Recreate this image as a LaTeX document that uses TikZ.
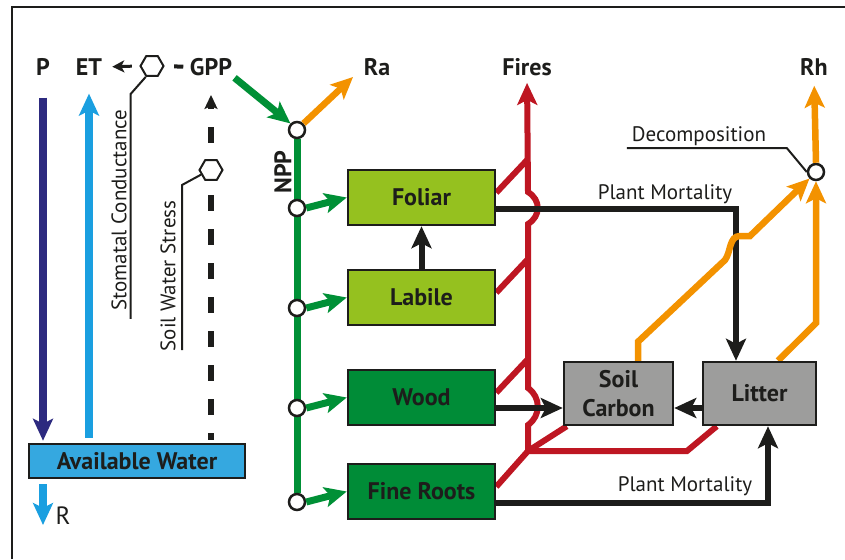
\documentclass[tikz,border=0pt]{standalone}
\usepackage{fontspec}
\setmainfont{PT Sans}
\usetikzlibrary{arrows.meta,shapes.geometric,calc,backgrounds}
\definecolor{cnavy}{HTML}{2D2A7F}
\definecolor{cblue}{HTML}{1A9FE0}
\definecolor{cwater}{HTML}{35A8E0}
\definecolor{cgreen}{HTML}{009036}
\definecolor{cleaf}{HTML}{95C11F}
\definecolor{cwood}{HTML}{008C37}
\definecolor{cgray}{HTML}{9D9D9C}
\definecolor{cred}{HTML}{BE1622}
\definecolor{corange}{HTML}{F39200}
\definecolor{cblack}{HTML}{1D1D1B}
\tikzset{
  lbl/.style={font=\fontsize{24}{24}\selectfont\bfseries, inner sep=0pt, text=cblack},
  txt/.style={font=\fontsize{21}{21}\selectfont, inner sep=0pt, text=cblack},
  pool/.style={draw=cblack, line width=2.5pt, align=center, inner sep=0pt, text=cblack,
    font=\fontsize{24}{29}\selectfont\bfseries},
  leafbox/.style={pool, fill=cleaf, minimum width=147pt, minimum height=55pt},
  woodbox/.style={pool, fill=cwood, minimum width=147pt, minimum height=55pt},
  greybox/.style={pool, fill=cgray, minimum height=63pt},
  waterbox/.style={pool, fill=cwater, minimum width=216pt, minimum height=34pt},
  dot/.style={circle, draw=cblack, fill=white, line width=2.5pt, minimum size=16pt, inner sep=0pt},
  hexa/.style={regular polygon, regular polygon sides=6, draw=cblack, fill=white, line width=2pt,
    minimum size=23pt, inner sep=0pt},
  bigtip/.style={-{Stealth[length=22pt,width=20pt,inset=5pt]}},
  gflow/.style={draw=cgreen, line width=7pt, bigtip},
  gline/.style={draw=cgreen, line width=7pt},
  oflow/.style={draw=corange, line width=6.5pt, bigtip},
  rline/.style={draw=cred, line width=6pt},
  rflow/.style={draw=cred, line width=6pt, bigtip},
  kflow/.style={draw=cblack, line width=6pt, bigtip},
  pflow/.style={draw=cnavy, line width=8pt, bigtip},
  bflow/.style={draw=cblue, line width=8pt, bigtip},
  dflow/.style={draw=cblack, line width=6pt, dash pattern=on 16pt off 18pt, dash phase=9pt,
    -{Stealth[length=14pt,width=13pt,inset=3pt]}},
  leader/.style={draw=cblack, line width=2pt},
}
\begin{document}
\begin{tikzpicture}[x=1pt,y=-1pt]
\useasboundingbox (0,0) rectangle (845,559);
\draw[cblack, line width=1.5pt] (12,559) -- (12,7) -- (845,7);

% top labels
\node[lbl] (P) at (43,67) {P};
\node[lbl] (ET) at (89,67) {ET};
\node[hexa] (hexA) at (152,66) {};
\node[lbl] (GPP) at (211,67) {GPP};
\node[lbl] (Ra) at (377,67) {Ra};
\node[lbl] (Fires) at (527,67) {Fires};
\node[lbl] (Rh) at (814,67) {Rh};
\coordinate (raTip) at (353,77);

% water
\node[waterbox] (AW) at (137,461) {Available Water};
\node[hexa] (hexB) at (211,170) {};
\node[txt, font=\fontsize{25}{25}\selectfont] (R) at (63,516) {R};
\coordinate (rTip) at (43,525);
\node[txt, rotate=90] (stom) at (119,210) {Stomatal Conductance};
\node[txt, rotate=90] (sws) at (168,276) {Soil Water Stress};

% NPP chain
\node[dot] (cN) at (297,130) {};
\node[dot] (cF) at (297,208) {};
\node[dot] (cL) at (297,308) {};
\node[dot] (cW) at (297,408) {};
\node[dot] (cR) at (297,502) {};
\node[lbl, rotate=90] (NPP) at (283,172) {NPP};

% pools
\node[leafbox] (Fol) at (421.5,197.5) {Foliar};
\node[leafbox] (Lab) at (421.5,297.5) {Labile};
\node[woodbox] (Wood) at (421.5,397.5) {Wood};
\node[woodbox] (FR) at (421.5,491.5) {Fine Roots};
\node[greybox, minimum width=109pt] (SC) at (618.5,393.5) {Soil\\Carbon};
\node[greybox, minimum width=113pt] (Lit) at (759.5,393.5) {Litter};
\node[dot] (cD) at (816,172) {};

\node[txt] (dec) at (699,136) {Decomposition};
\node[txt] (pm1) at (665,194) {Plant Mortality};
\node[txt] (pm2) at (685,486) {Plant Mortality};

\coordinate (J) at (528,451);

\begin{pgfonlayer}{background}
% green
\draw[gline] (cN) -- (cR);
% dashed soil water stress
\draw[dflow, shorten <=3pt, shorten >=19pt] (GPP.south |- AW.north) -- (GPP.south);
% red fire lines
\draw[rline] ($(Fol.north east)+(0,24)$) -- (528,159);
\draw[rline] ($(Lab.north east)+(0,24)$) -- (528,259);
\draw[rline] ($(Wood.north east)+(0,24)$) -- (528,359);
\draw[rline] ($(FR.north east)+(0,24)$) -- (J);
\draw[rline] ($(SC.south west)+(4,0)$) -- (J);
\draw[rline] ($(Lit.south west)+(15,0)$) -- (687,451) -- (J);
\draw[rflow, shorten >=7pt] (J) -- (528,425) .. controls (541,416) and (541,397) .. (528,388)
   -- (528,224) .. controls (541,216) and (541,200) .. (528,192) -- (Fires.south);
% black flows
\draw[kflow] ($(Fol.east)+(0,11.5)$) -| ($(Lit.north)+(-23.5,0)$);
\draw[kflow] (Lab.north) -- (Fol.south);
\draw[kflow] ($(Wood.east)+(0,10.5)$) -- ($(SC.west)+(0,14.5)$);
\draw[kflow] ($(Lit.west)+(0,14.5)$) -- ($(SC.east)+(0,14.5)$);
\draw[kflow] ($(FR.east)+(0,11.5)$) -| ($(Lit.south)+(8.5,0)$);
% orange flows
\draw[oflow] ($(SC.north)+(19.5,0)$) -- ++(0,-19) -- (725,260)
   .. controls (731,252) and (729,236) .. (740,236) -- (750,236) -- (cD.south west);
\draw[oflow] ($(Lit.north)+(18.5,0)$) -- ($(cD)+(0,151)$) -- (cD.south);
\end{pgfonlayer}

\draw[oflow, shorten >=10pt] (cD.north) -- (Rh.south);
\draw[oflow] (cN.north east) -- (raTip);
\draw[gflow, shorten <=3pt] (GPP.south east) -- (cN.north west);
\draw[gflow] (cF.east) -- (Fol.west);
\draw[gflow] (cL.east) -- (Lab.west);
\draw[gflow] (cW.east) -- (Wood.west);
\draw[gflow] (cR.east) -- (FR.west);

% water flows
\draw[pflow, shorten <=22pt, shorten >=2pt] (P.south) -- (P.south |- AW.north);
\draw[bflow, shorten <=5pt, shorten >=18pt] (ET.south |- AW.north) -- (ET.south);
\draw[bflow, shorten <=5pt] (AW.south -| P.south) -- (rTip);
\draw[cblack, line width=4pt, shorten <=6.5pt, shorten >=9.5pt] (GPP.west) -- (hexA.east);
\draw[cblack, line width=3pt, -{Stealth[length=12pt,width=12pt,inset=3pt]}, shorten <=7.5pt, shorten >=10pt] (hexA.west) -- (ET.east);

% leaders
\draw[leader] (hexA.240) -- ++(-15,17) -- ++(0,225);
\draw[leader] (hexB.205) -- (182,185) -- (182,350);
\draw[leader] (cD.west) -- ++(-20,-24) -- ++(-160,0);
\end{tikzpicture}
\end{document}
